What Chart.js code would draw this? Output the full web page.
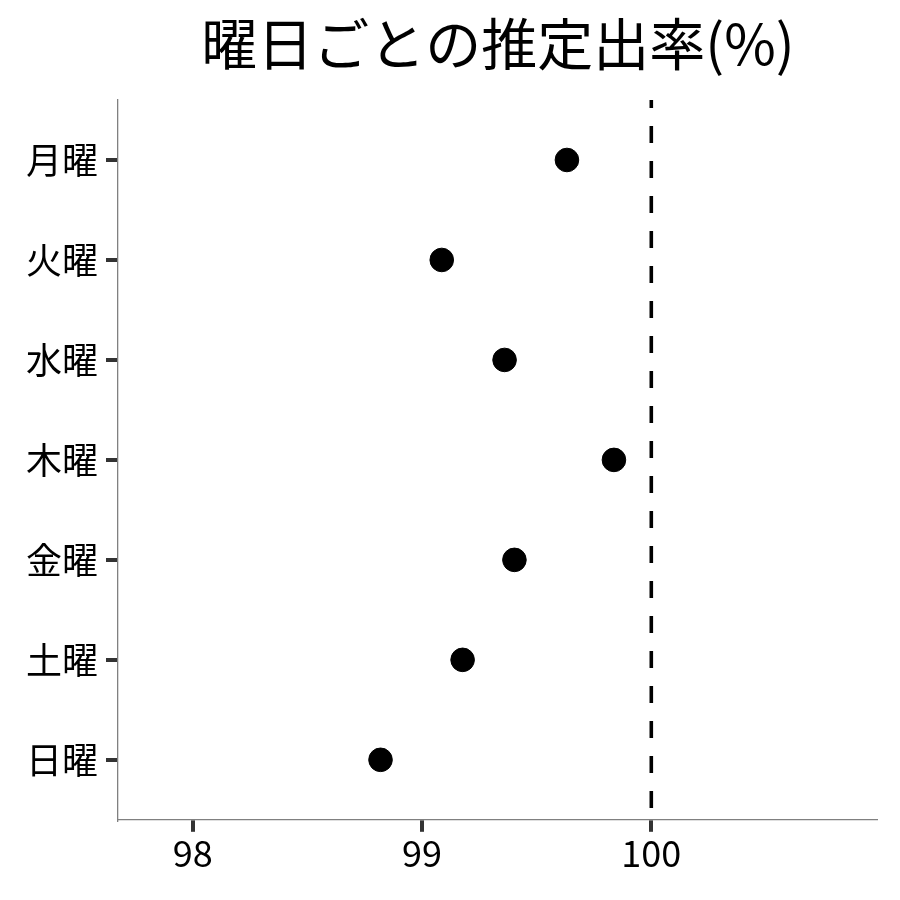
<!DOCTYPE html>
<html>
<head>
<meta charset="utf-8">
<script src="https://cdn.jsdelivr.net/npm/chart.js@4"></script>
<style>
  html, body { margin: 0; padding: 0; background: #fff; }
  #wrap { width: 900px; height: 900px; }
</style>
</head>
<body>
<div id="wrap"><canvas id="chart" width="900" height="900"></canvas></div>
<script>
const titleText = "曜日ごとの推定出率(%)";
const days = ["月曜", "火曜", "水曜", "木曜", "金曜", "土曜", "日曜"];
const rates = [99.632, 99.086, 99.360, 99.837, 99.403, 99.177, 98.819];
const xTicks = [98, 99, 100];
const refValue = 100;
const xMin = 97.674;
const xMax = 100.98;

const font = "'Noto Sans CJK JP', 'Noto Sans', sans-serif";

// タイトルはパネルの中央に置く
const panelTitle = {
  id: "panelTitle",
  afterDraw(chart) {
    const { ctx, chartArea } = chart;
    ctx.save();
    ctx.font = "56px " + font;
    ctx.fillStyle = "#000";
    ctx.textAlign = "center";
    ctx.textBaseline = "middle";
    ctx.fillText(titleText, (chartArea.left + chartArea.right) / 2 + 1, 44);
    ctx.restore();
  }
};

const ctx = document.getElementById("chart").getContext("2d");
new Chart(ctx, {
  type: "scatter",
  data: {
    datasets: [
      {
        type: "line",
        data: [{ x: refValue, y: -0.6 }, { x: refValue, y: days.length - 0.4 }],
        borderColor: "#000",
        borderWidth: 3.6,
        borderDash: [17, 18],
        borderDashOffset: 9,
        pointRadius: 0,
        fill: false
      },
      {
        data: rates.map((v, i) => ({ x: v, y: i })),
        backgroundColor: "#000",
        borderColor: "#000",
        pointRadius: 11.8,
        pointHoverRadius: 11.8
      }
    ]
  },
  options: {
    responsive: false,
    animation: false,
    layout: { padding: { top: 100, right: 24, bottom: 25, left: 18 } },
    plugins: {
      legend: { display: false },
      tooltip: { enabled: false },
      title: { display: false }
    },
    scales: {
      x: {
        type: "linear",
        min: xMin,
        max: xMax,
        afterBuildTicks: s => { s.ticks = xTicks.map(v => ({ value: v })); },
        grid: { drawOnChartArea: false, drawTicks: true, tickLength: 12, tickColor: "#333", tickWidth: 4, color: "#333", lineWidth: 4 },
        border: { color: "#808080", width: 1.3 },
        ticks: { color: "#000", padding: 0, font: { family: font, size: 36 } }
      },
      y: {
        type: "linear",
        reverse: true,
        min: -0.6,
        max: days.length - 0.4,
        afterBuildTicks: s => { s.ticks = days.map((d, i) => ({ value: i })); },
        grid: { drawOnChartArea: false, drawTicks: true, tickLength: 12, tickColor: "#333", tickWidth: 4, color: "#333", lineWidth: 4 },
        border: { color: "#808080", width: 1.3 },
        ticks: { color: "#000", padding: 8, font: { family: font, size: 36 }, callback: v => days[v] }
      }
    }
  },
  plugins: [panelTitle]
});
</script>
</body>
</html>
